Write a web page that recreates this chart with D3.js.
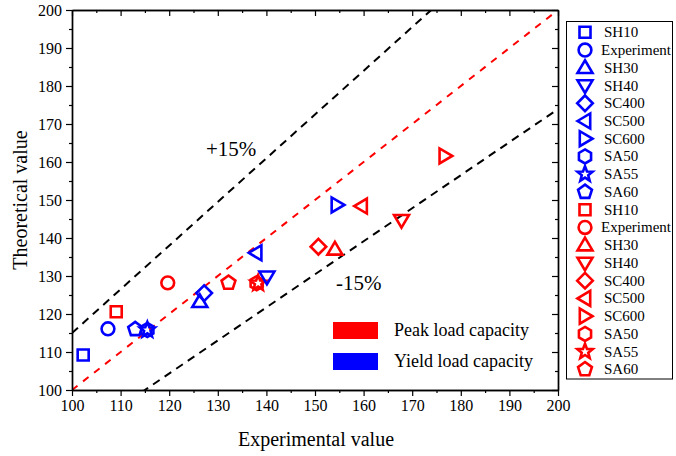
<!DOCTYPE html>
<html>
<head>
<meta charset="utf-8">
<script src="https://cdn.jsdelivr.net/npm/d3@7"></script>
<style>
  html, body { margin: 0; padding: 0; background: #fff; }
  svg { display: block; font-family: "Liberation Serif", "Times New Roman", serif; }
</style>
</head>
<body>
<svg id="chart" width="676" height="456"></svg>
<script>
// Specimen names, shared by both series
const specimens = ["SH10", "Experiment", "SH30", "SH40", "SC400", "SC500", "SC600", "SA50", "SA55", "SA60"];
const symbolKinds = ["square", "circle", "triUp", "triDown", "diamond", "triLeft", "triRight", "hexagon", "star", "pentagon"];

// Yield load capacity: [experimental, theoretical]
const yieldExp =    [102.3, 107.4, 126.3, 140.1, 127.2, 137.9, 154.5, 115.5, 115.5, 113.0];
const yieldTheo =   [109.2, 116.1, 123.2, 129.8, 125.5, 136.1, 148.7, 115.8, 115.8, 116.0];

// Peak load capacity: [experimental, theoretical]
const peakExp =     [109.1, 119.7, 154.1, 167.8, 150.7, 159.6, 176.7, 138.0, 138.3, 132.2];
const peakTheo =    [120.6, 128.2, 137.0, 144.7, 137.7, 148.4, 161.6, 128.1, 128.1, 128.2];

const xTicks = [100, 110, 120, 130, 140, 150, 160, 170, 180, 190, 200];
const yTicks = [100, 110, 120, 130, 140, 150, 160, 170, 180, 190, 200];
const minorTicks = [105, 115, 125, 135, 145, 155, 165, 175, 185, 195];

// Reference lines: y = k * x
const refSlopes = [1, 1.15, 1 / 1.15];

const BLUE = "#0000ff", RED = "#ff0000";

const svg = d3.select("#chart");
const m = { left: 72, top: 10, right: 558, bottom: 390 };
const x = d3.scaleLinear().domain([100, 200]).range([m.left, m.right]);
const y = d3.scaleLinear().domain([100, 200]).range([m.bottom, m.top]);

svg.append("defs").append("clipPath").attr("id", "plotClip")
  .append("rect").attr("x", m.left).attr("y", m.top)
  .attr("width", m.right - m.left).attr("height", m.bottom - m.top);

// Reference lines
const refG = svg.append("g").attr("clip-path", "url(#plotClip)");
refSlopes.forEach((k, i) => {
  const line = d3.line().x(d => x(d)).y(d => y(k * d));
  refG.append("path")
    .datum([100, 200])
    .attr("d", line)
    .attr("fill", "none")
    .attr("stroke", i === 0 ? RED : "#000")
    .attr("stroke-width", 2)
    .attr("stroke-dasharray", i === 0 ? "7,7" : "8,6");
});

// Axes
const fontTick = "16px";
function styleAxis(g) {
  g.selectAll("path.domain").attr("stroke", "#000").attr("stroke-width", 1.4);
  g.selectAll(".tick line").attr("stroke", "#000").attr("stroke-width", 1.2);
  g.selectAll(".tick text").attr("fill", "#000").style("font-size", fontTick)
    .style("font-family", '"Liberation Serif", "Times New Roman", serif');
}

const xAxis = svg.append("g").attr("transform", `translate(0,${m.bottom})`)
  .call(d3.axisBottom(x).tickValues(xTicks).tickSize(6).tickPadding(4).tickSizeOuter(0).tickFormat(d3.format("d")));
styleAxis(xAxis);
const xMinor = svg.append("g").attr("transform", `translate(0,${m.bottom})`)
  .call(d3.axisBottom(x).tickValues(minorTicks).tickSize(3).tickSizeOuter(0).tickFormat(""));
styleAxis(xMinor);

const yAxis = svg.append("g").attr("transform", `translate(${m.left},0)`)
  .call(d3.axisLeft(y).tickValues(yTicks).tickSize(6).tickPadding(4).tickSizeOuter(0).tickFormat(d3.format("d")));
styleAxis(yAxis);
const yMinor = svg.append("g").attr("transform", `translate(${m.left},0)`)
  .call(d3.axisLeft(y).tickValues(minorTicks).tickSize(3).tickSizeOuter(0).tickFormat(""));
styleAxis(yMinor);

// Mirrored top / right axes, ticks pointing inward
const xTop = svg.append("g").attr("transform", `translate(0,${m.top})`)
  .call(d3.axisTop(x).tickValues(xTicks).tickSize(-6).tickSizeOuter(0).tickFormat(""));
styleAxis(xTop);
const xTopMinor = svg.append("g").attr("transform", `translate(0,${m.top})`)
  .call(d3.axisTop(x).tickValues(minorTicks).tickSize(-3).tickSizeOuter(0).tickFormat(""));
styleAxis(xTopMinor);
const yRight = svg.append("g").attr("transform", `translate(${m.right},0)`)
  .call(d3.axisRight(y).tickValues(yTicks).tickSize(-6).tickSizeOuter(0).tickFormat(""));
styleAxis(yRight);
const yRightMinor = svg.append("g").attr("transform", `translate(${m.right},0)`)
  .call(d3.axisRight(y).tickValues(minorTicks).tickSize(-3).tickSizeOuter(0).tickFormat(""));
styleAxis(yRightMinor);

// Axis titles
svg.append("text").attr("x", 316).attr("y", 446)
  .attr("text-anchor", "middle").style("font-size", "20px").attr("fill", "#000")
  .text("Experimental value");
svg.append("text").attr("transform", `translate(27,${(m.top + m.bottom) / 2}) rotate(-90)`)
  .attr("text-anchor", "middle").style("font-size", "20px").attr("fill", "#000")
  .text("Theoretical value");

// Marker shapes
function shapePath(kind) {
  const p = d3.path();
  const poly = pts => { pts.forEach((q, i) => i ? p.lineTo(q[0], q[1]) : p.moveTo(q[0], q[1])); p.closePath(); };
  const reg = (n, r, rot) => d3.range(n).map(i => {
    const a = rot + i * 2 * Math.PI / n;
    return [r * Math.cos(a), r * Math.sin(a)];
  });
  switch (kind) {
    case "square": p.rect(-5.5, -5.5, 11, 11); break;
    case "circle": p.arc(0, 0, 6.4, 0, 2 * Math.PI); p.closePath(); break;
    case "triUp": poly([[0, -7.5], [7.5, 5.2], [-7.5, 5.2]]); break;
    case "triDown": poly([[0, 7.5], [7.5, -5.2], [-7.5, -5.2]]); break;
    case "triLeft": poly([[-7.5, 0], [5.2, -7.5], [5.2, 7.5]]); break;
    case "triRight": poly([[7.5, 0], [-5.2, -7.5], [-5.2, 7.5]]); break;
    case "diamond": poly([[0, -7.8], [7.8, 0], [0, 7.8], [-7.8, 0]]); break;
    case "hexagon": poly(reg(6, 7, -Math.PI / 2)); break;
    case "pentagon": poly(reg(5, 7.3, -Math.PI / 2)); break;
    case "star": {
      const pts = d3.range(10).map(i => {
        const r = i % 2 ? 3.4 : 8;
        const a = -Math.PI / 2 + i * Math.PI / 5;
        return [r * Math.cos(a), r * Math.sin(a)];
      });
      poly(pts); break;
    }
  }
  return p.toString();
}

function drawSeries(xs, ys, color) {
  svg.append("g").selectAll("path")
    .data(specimens.map((s, i) => ({ s, kind: symbolKinds[i], ex: xs[i], th: ys[i] })))
    .join("path")
    .attr("transform", d => `translate(${x(d.ex)},${y(d.th)})`)
    .attr("d", d => shapePath(d.kind))
    .attr("fill", "none").attr("stroke", color).attr("stroke-width", 2.6)
    .attr("stroke-linejoin", "miter");
}
drawSeries(peakExp, peakTheo, RED);
drawSeries(yieldExp, yieldTheo, BLUE);

// Band labels
svg.append("text").attr("x", 206).attr("y", 156).style("font-size", "21px").attr("fill", "#000").text("+15%");
svg.append("text").attr("x", 336).attr("y", 290).style("font-size", "21px").attr("fill", "#000").text("-15%");

// Series key inside plot
const keyItems = [["Peak load capacity", RED, 330], ["Yield load capacity", BLUE, 361]];
keyItems.forEach(([label, color, cy]) => {
  svg.append("rect").attr("x", 333).attr("y", cy - 8).attr("width", 45).attr("height", 17).attr("fill", color);
  svg.append("text").attr("x", 394).attr("y", cy + 6).style("font-size", "18px").attr("fill", "#000").text(label);
});

// Specimen legend box
const leg = svg.append("g");
leg.append("rect").attr("x", 566.5).attr("y", 21.5).attr("width", 106).attr("height", 357.5)
  .attr("fill", "#fff").attr("stroke", "#000").attr("stroke-width", 1);
const legendRows = [
  ...specimens.map((s, i) => ({ s, kind: symbolKinds[i], color: BLUE })),
  ...specimens.map((s, i) => ({ s, kind: symbolKinds[i], color: RED }))
];
legendRows.forEach((r, i) => {
  const cy = 32.3 + i * 17.74;
  leg.append("path").attr("transform", `translate(585,${cy})`).attr("d", shapePath(r.kind))
    .attr("fill", "none").attr("stroke", r.color).attr("stroke-width", 2.6);
  leg.append("text").attr("x", r.s === "Experiment" ? 601 : 604).attr("y", cy + 5)
    .style("font-size", "15px").attr("fill", "#000").text(r.s);
});
</script>
</body>
</html>
